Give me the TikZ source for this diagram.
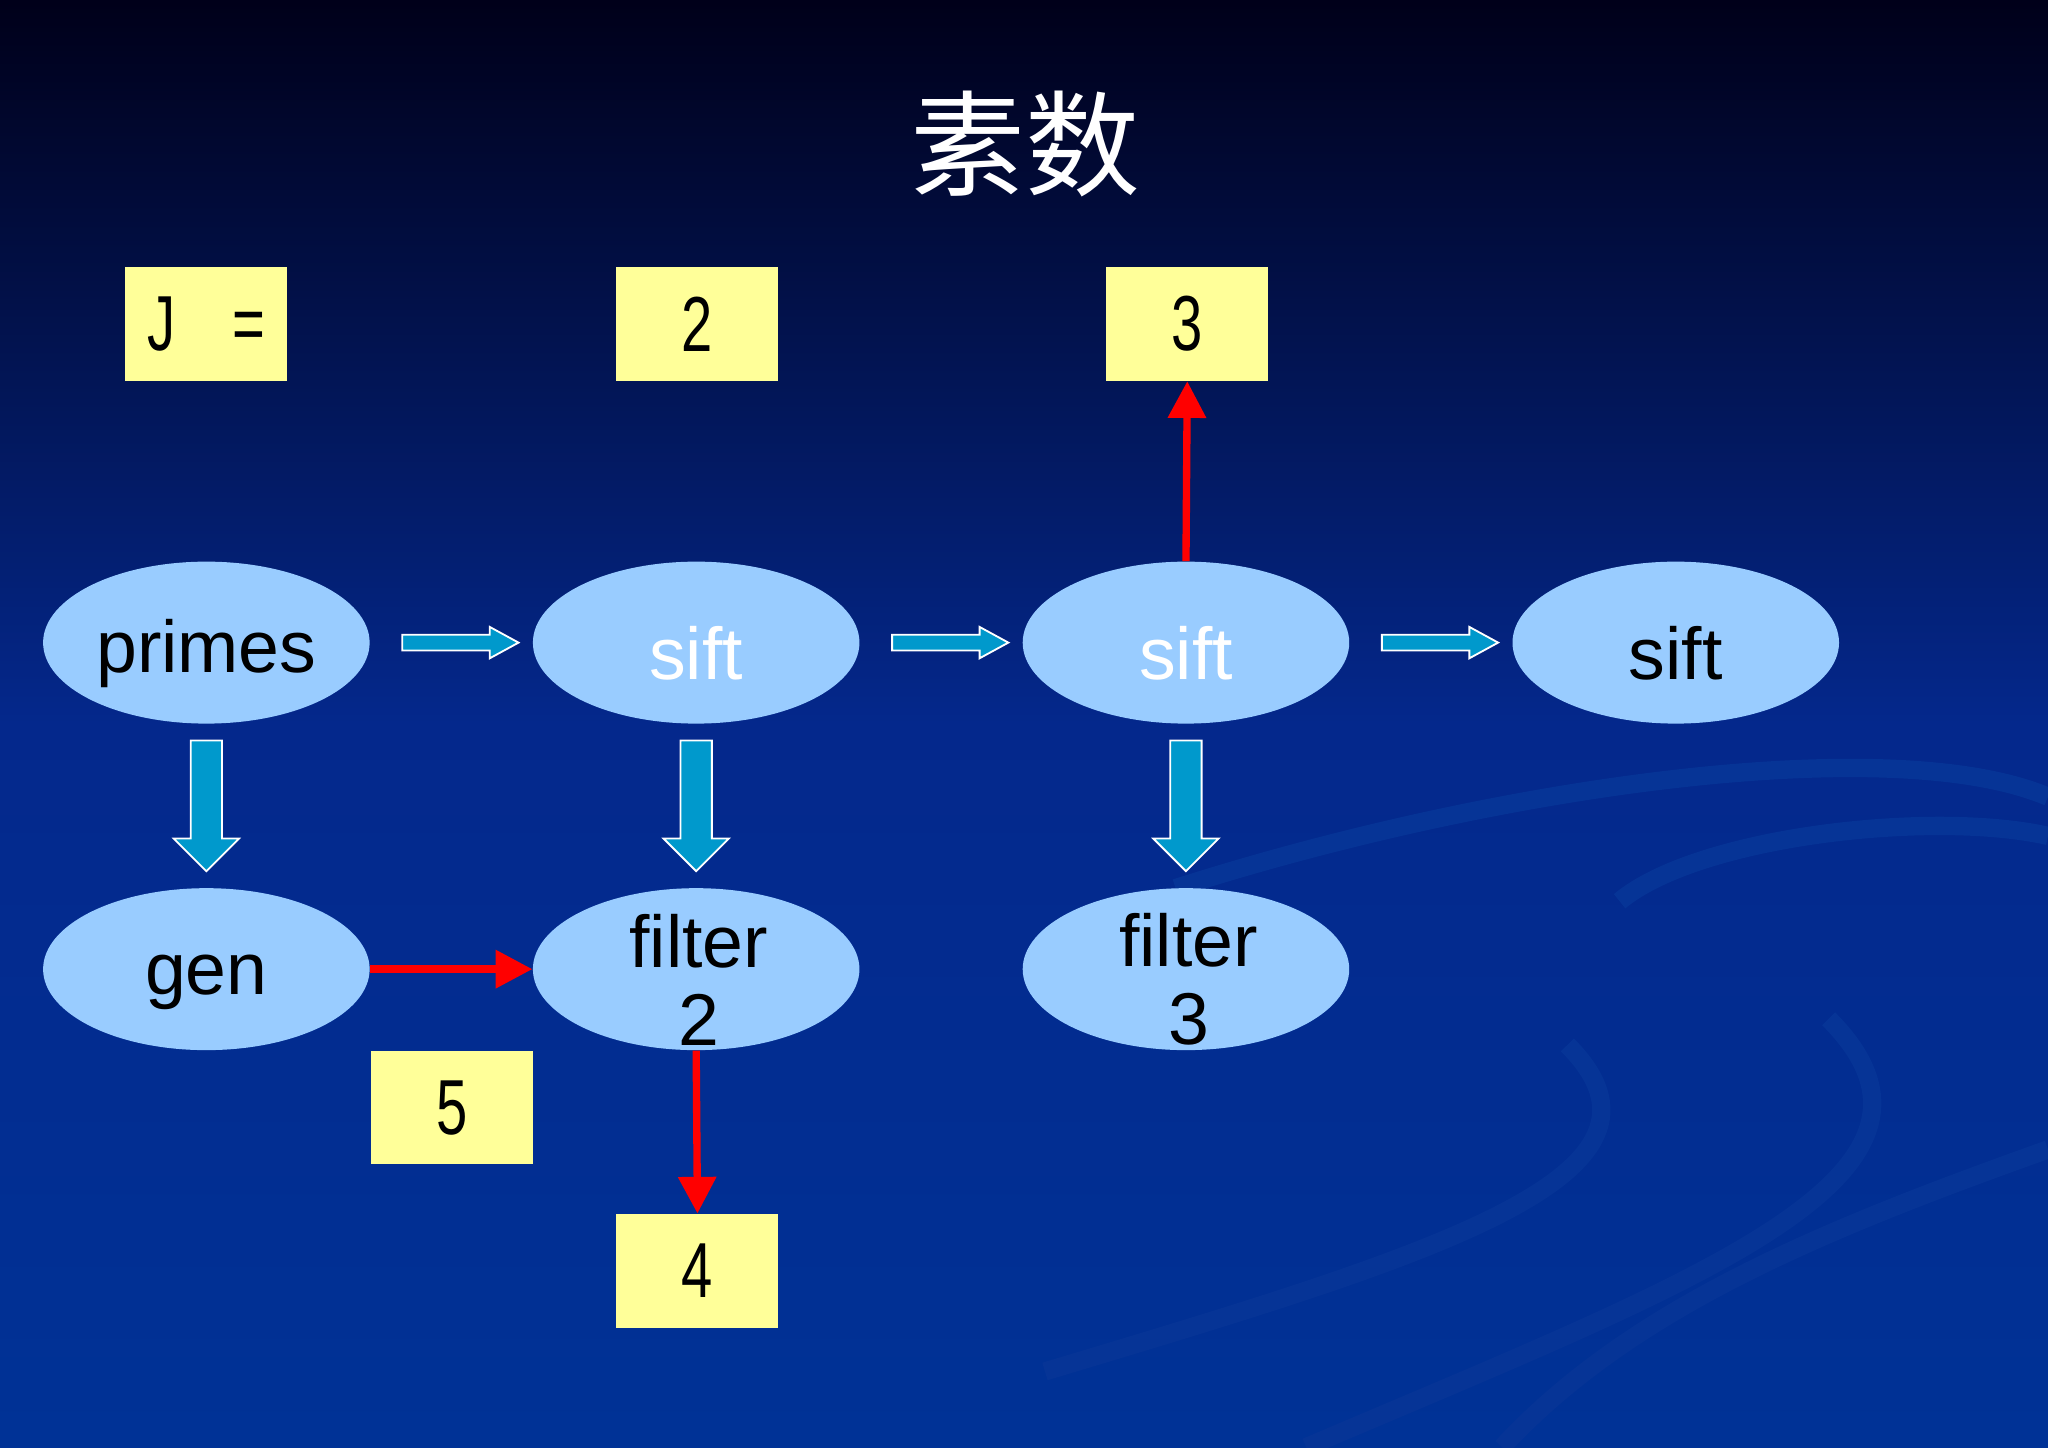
\documentclass[tikz,border=0pt]{standalone}
\usepackage{fontspec}
\setmainfont{Liberation Sans}
\newfontfamily\cjk{Noto Sans CJK SC}
\usetikzlibrary{shapes.geometric,arrows.meta}
\definecolor{ellfill}{HTML}{99CCFF}
\definecolor{boxfill}{HTML}{FFFF99}
\definecolor{blk}{HTML}{0099CC}
\newcommand{\nrw}[1]{\scalebox{0.72}[1]{#1}}
\begin{document}
\begin{tikzpicture}[x=0.02cm,y=-0.02cm,
 ell/.style={ellipse,fill=ellfill,minimum width=250*0.02cm,minimum height=124*0.02cm,inner sep=0pt,font=\fontsize{32}{34}\selectfont,align=center},
 box/.style={rectangle,fill=boxfill,minimum width=124*0.02cm,minimum height=87*0.02cm,inner sep=0pt,font=\fontsize{34}{34}\selectfont},
 red/.style={draw=red,line width=3.2pt,-{Triangle[length=16pt,width=16pt]}},
 harr/.style={fill=blk,draw=white,line width=0.8pt},
]
\shade[top color=black!90!blue, bottom color={rgb,255:red,0;green,50;blue,150},middle color={rgb,255:red,4;green,40;blue,140}] (0,0) rectangle (1568,1108);
\useasboundingbox (0,0) rectangle (1568,1108);
\begin{scope}[draw={rgb,255:red,6;green,52;blue,150},line width=8pt]
\draw (900,680) .. controls (1150,600) and (1450,560) .. (1568,610);
\draw (1240,690) .. controls (1300,640) and (1480,620) .. (1568,640);
\draw (1200,800) .. controls (1300,900) and (1100,960) .. (800,1050);
\draw (1400,780) .. controls (1520,900) and (1300,980) .. (1000,1108);
\draw (1568,880) .. controls (1400,940) and (1250,1000) .. (1150,1108);
\end{scope}
\node[text=white,font=\cjk\fontsize{50}{50}\selectfont] (title) at (785,110) {素数};
\node[box] (bJ) at (158,248) {\nrw{J\quad=}};
\node[box] (b2) at (534,248) {\nrw{2}};
\node[box] (b3) at (909,248) {\nrw{3}};
\node[box] (b5) at (346,848) {\nrw{5}};
\node[box] (b4) at (534,973) {\nrw{4}};
\node[ell] (primes) at (158,492) {};
\node[ell] (s1) at (533,492) {};
\node[ell] (s2) at (908,492) {};
\node[ell] (s3) at (1283,492) {};
\node[ell] (gen) at (158,742) {};
\node[ell] (f2) at (533,742) {};
\node[ell] (f3) at (908,742) {};
\node[font=\fontsize{32}{34}\selectfont] at (158,500) {primes};
\node[font=\fontsize{32}{34}\selectfont,text=white] at (533,500) {sift};
\node[font=\fontsize{32}{34}\selectfont,text=white] at (908,500) {sift};
\node[font=\fontsize{32}{34}\selectfont] at (1283,500) {sift};
\node[font=\fontsize{32}{34}\selectfont] at (158,752) {gen};
\node[font=\fontsize{32}{34}\selectfont,align=center] at (535,750) {filter\\2};
\node[font=\fontsize{32}{34}\selectfont,align=center] at (910,750) {filter\\3};
\foreach \x in {308,683,1058}{
 \draw[harr] (\x,486) -- (\x+67,486) -- (\x+67,480) -- (\x+89,492) -- (\x+67,504) -- (\x+67,498) -- (\x,498) -- cycle;}
\foreach \x in {158,533,908}{
 \draw[harr] (\x-12,567) -- (\x+12,567) -- (\x+12,642) -- (\x+25,642) -- (\x,667) -- (\x-25,642) -- (\x-12,642) -- cycle;}
\draw[red] (s2.north) -- (b3.south);
\draw[red] (gen.east) -- (f2.west);
\draw[red] (f2.south) -- (b4.north);
\end{tikzpicture}
\end{document}
